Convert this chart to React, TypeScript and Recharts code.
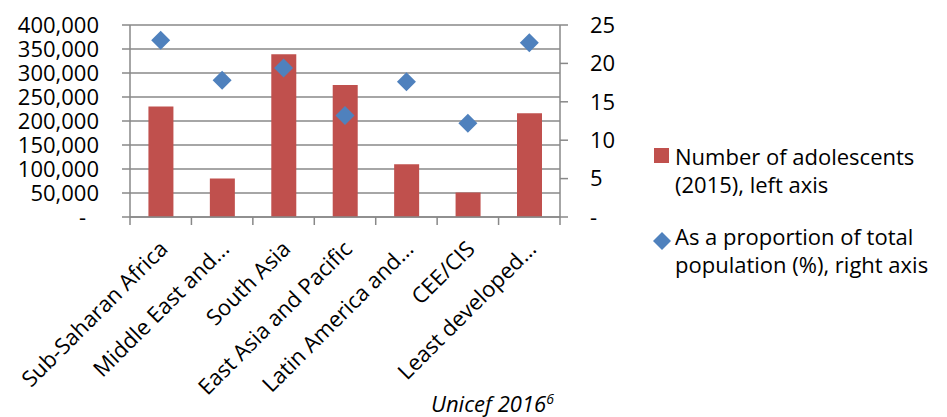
import { Bar, CartesianGrid, ComposedChart, Legend, Line, XAxis, YAxis } from "recharts";

const regions = [
  "Sub-Saharan Africa",
  "Middle East and...",
  "South Asia",
  "East Asia and Pacific",
  "Latin America and...",
  "CEE/CIS",
  "Least developed...",
];
const adolescents = [230000, 80000, 339000, 275000, 110000, 51000, 216000];
const proportion = [23.0, 17.8, 19.4, 13.2, 17.6, 12.2, 22.7];
const leftTicks = [0, 50000, 100000, 150000, 200000, 250000, 300000, 350000, 400000];
const rightTicks = [0, 5, 10, 15, 20, 25];
const barLegend = ["Number of adolescents", "(2015), left axis"];
const dotLegend = ["As a proportion of total", "population (%), right axis"];

const data = regions.map((region, i) => ({
  region,
  adolescents: adolescents[i],
  proportion: proportion[i],
}));

const FONT = "'Open Sans', sans-serif";
const GRID = "#888888";
const RED = "#C0504D";
const BLUE = "#4F81BD";

const LeftTick = (props: any) => {
  const { x, y, payload } = props;
  const v = payload.value;
  return (
    <text x={v === 0 ? x - 13 : x} y={y} dy="0.35em" textAnchor="end" fontFamily={FONT} fontSize={22} fill="#000">
      {v === 0 ? "-" : v.toLocaleString("en-US")}
    </text>
  );
};

const RightTick = (props: any) => {
  const { x, y, payload } = props;
  const v = payload.value;
  return (
    <text x={x} y={y} dy="0.35em" textAnchor="start" fontFamily={FONT} fontSize={22} fill="#000">
      {v === 0 ? "-" : v}
    </text>
  );
};

const CategoryTick = (props: any) => {
  const { x, y, payload, index } = props;
  const half = payload.offset || 30.7;
  return (
    <g>
      <line x1={x - half} x2={x - half} y1={y} y2={y + 8} stroke={GRID} strokeWidth={1.5} />
      {index === regions.length - 1 && (
        <line x1={x + half} x2={x + half} y1={y} y2={y + 8} stroke={GRID} strokeWidth={1.5} />
      )}
      <text
        transform={`translate(${x + 2},${y + 27}) rotate(-45)`}
        textAnchor="end"
        dominantBaseline="central"
        fontFamily={FONT}
        fontSize={22}
        fill="#000"
      >
        {payload.value}
      </text>
    </g>
  );
};

const Diamond = (props: any) => {
  const { cx, cy } = props;
  if (cx == null || cy == null) return null;
  const r = 9.5;
  return (
    <polygon
      points={`${cx},${cy - r} ${cx + r},${cy} ${cx},${cy + r} ${cx - r},${cy}`}
      fill={BLUE}
    />
  );
};

const LegendBox = () => (
  <div style={{ fontFamily: FONT, fontSize: 22, lineHeight: "28px", color: "#000", width: 294 }}>
    <div style={{ display: "flex" }}>
      <div style={{ width: 22, flex: "none", paddingTop: 6 }}>
        <div style={{ width: 15, height: 15, background: RED, marginLeft: 1 }} />
      </div>
      <div>
        {barLegend.map((t) => (
          <div key={t}>{t}</div>
        ))}
      </div>
    </div>
    <div style={{ display: "flex", marginTop: 24 }}>
      <div style={{ width: 22, flex: "none", paddingTop: 5 }}>
        <svg width={18} height={18}>
          <polygon points="9,0 18,9 9,18 0,9" fill={BLUE} />
        </svg>
      </div>
      <div>
        {dotLegend.map((t) => (
          <div key={t} style={{ whiteSpace: "nowrap" }}>{t}</div>
        ))}
      </div>
    </div>
  </div>
);

export default function App() {
  return (
    <div style={{ position: "absolute", left: 0, top: 0, width: 947, height: 417, background: "#fff" }}>
      <ComposedChart
        width={947}
        height={417}
        data={data}
        margin={{ top: 25, right: 0, bottom: 0, left: 0 }}
        barCategoryGap="30%"
      >
        <CartesianGrid vertical={false} yAxisId="left" stroke={GRID} strokeWidth={1.5} />
        <XAxis
          dataKey="region"
          height={200}
          interval={0}
          tickSize={0}
          tickMargin={0}
          tickLine={false}
          axisLine={{ stroke: GRID, strokeWidth: 1.5 }}
          tick={<CategoryTick />}
        />
        <YAxis
          yAxisId="left"
          width={130}
          domain={[0, 400000]}
          ticks={leftTicks}
          tickSize={8}
          tickMargin={23}
          interval={0}
          axisLine={{ stroke: GRID, strokeWidth: 1.5 }}
          tickLine={{ stroke: GRID, strokeWidth: 1.5 }}
          tick={<LeftTick />}
        />
        <YAxis
          yAxisId="right"
          orientation="right"
          width={93}
          domain={[0, 25]}
          ticks={rightTicks}
          tickSize={8}
          tickMargin={22}
          interval={0}
          axisLine={{ stroke: GRID, strokeWidth: 1.5 }}
          tickLine={{ stroke: GRID, strokeWidth: 1.5 }}
          tick={<RightTick />}
        />
        <Legend
          layout="vertical"
          align="right"
          verticalAlign="top"
          width={294}
          wrapperStyle={{ top: 142, right: 0, width: 294 }}
          content={() => <LegendBox />}
        />
        <Bar yAxisId="left" dataKey="adolescents" fill={RED} isAnimationActive={false} />
        <Line
          yAxisId="right"
          dataKey="proportion"
          stroke="none"
          strokeWidth={0}
          dot={<Diamond />}
          activeDot={false}
          isAnimationActive={false}
        />
      </ComposedChart>
      <div
        style={{
          position: "absolute",
          left: 431,
          top: 392,
          fontFamily: FONT,
          fontSize: 22,
          fontStyle: "italic",
          fontWeight: 400,
          color: "#000",
          lineHeight: "22px",
          whiteSpace: "nowrap",
        }}
      >
        Unicef 2016<sup style={{ fontSize: 14, lineHeight: 0, verticalAlign: "8px" }}>6</sup>
      </div>
    </div>
  );
}
